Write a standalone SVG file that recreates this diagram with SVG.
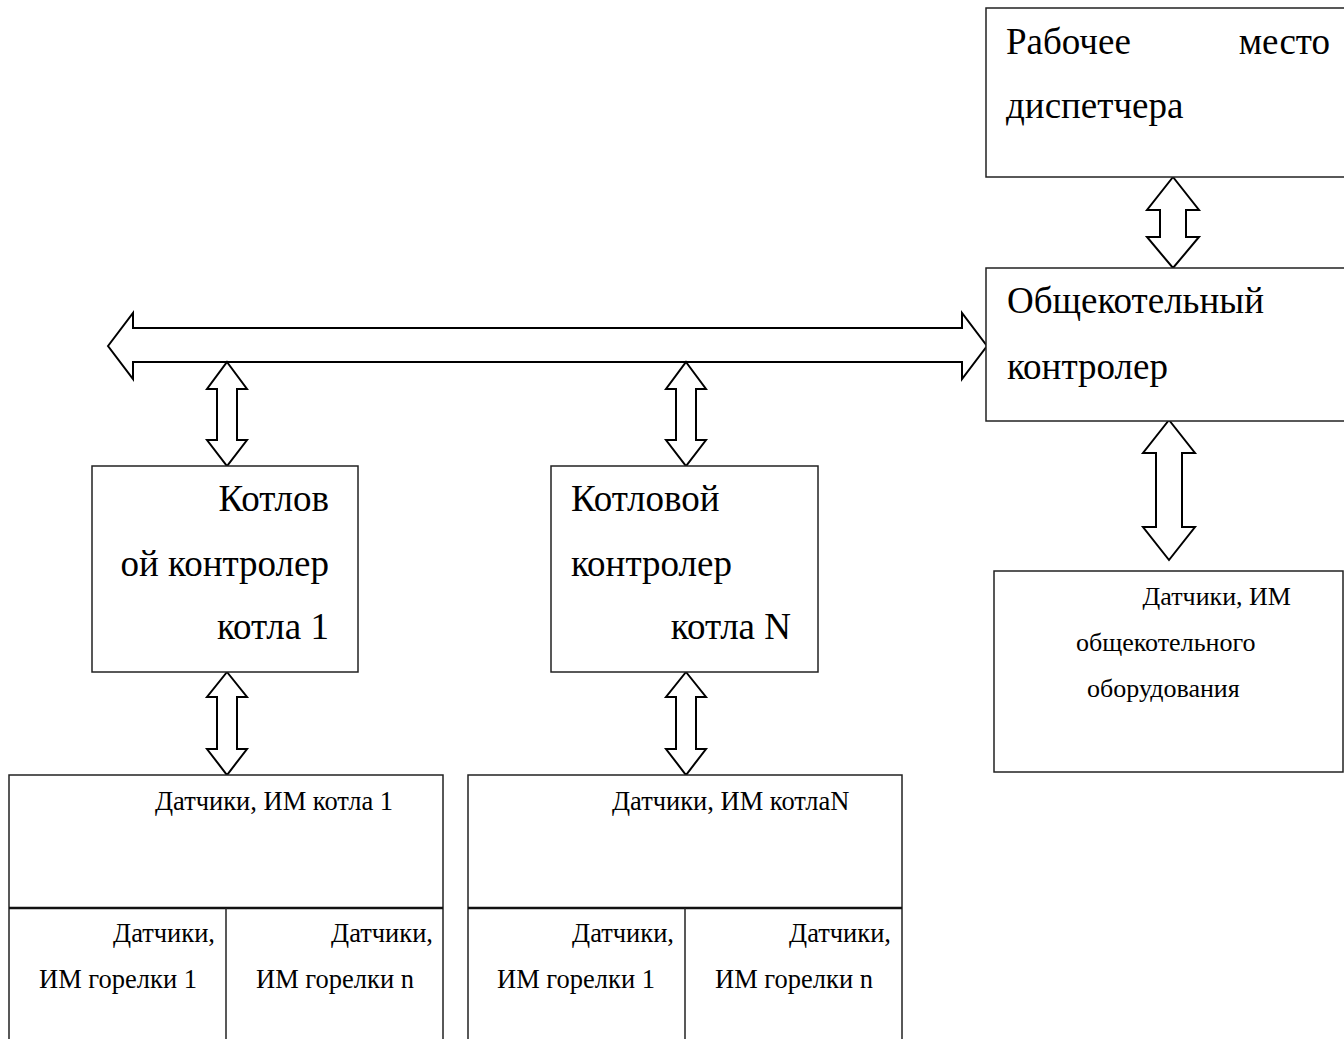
<svg xmlns="http://www.w3.org/2000/svg" width="1344" height="1039" viewBox="0 0 1344 1039">
<style>
.box{fill:#fff;stroke:#222;stroke-width:1.5}
.div{stroke:#111;stroke-width:2.5}
.vdiv{stroke:#222;stroke-width:1.5}
.arr{fill:#fff;stroke:#000;stroke-width:2;stroke-linejoin:miter}
.big{font-family:"Liberation Serif","Times New Roman",serif;font-size:37px;fill:#000}
.sm{font-family:"Liberation Serif","Times New Roman",serif;font-size:26.5px;fill:#000}
.sm3{font-family:"Liberation Serif","Times New Roman",serif;font-size:26px;fill:#000}
</style>
<rect width="1344" height="1039" fill="#fff"/>
<g id="connectors">
<polygon class="arr" points="108,346 133,313 133,328 962,328 962,313 987,346 962,379 962,362 133,362 133,379"/>
<polygon class="arr" points="227,362 247,389 237,389 237,440 247,440 227,466 207,440 217,440 217,389 207,389"/>
<polygon class="arr" points="686,362 706,389 696,389 696,440 706,440 686,466 666,440 676,440 676,389 666,389"/>
<polygon class="arr" points="227,672 247,697 237,697 237,749 247,749 227,775 207,749 217,749 217,697 207,697"/>
<polygon class="arr" points="686,672 706,697 696,697 696,749 706,749 686,775 666,749 676,749 676,697 666,697"/>
<polygon class="arr" points="1173,177 1199,210 1186,210 1186,237 1199,237 1173,268 1147,237 1160,237 1160,210 1147,210"/>
<polygon class="arr" points="1169,420 1195,453 1182,453 1182,527 1195,527 1169,560 1143,527 1156,527 1156,453 1143,453"/>
</g>
<g id="dispatcher">
<rect class="box" x="986" y="8" width="380" height="169"/>
<text class="big" x="1006" y="54">Рабочее</text>
<text class="big" x="1330" y="54" text-anchor="end">место</text>
<text class="big" x="1006" y="118">диспетчера</text>
</g>
<g id="main-controller">
<rect class="box" x="986" y="268" width="380" height="153"/>
<text class="big" x="1007" y="313">Общекотельный</text>
<text class="big" x="1007" y="379">контролер</text>
</g>
<g id="common-sensors">
<rect class="box" x="994" y="571" width="349" height="201"/>
<text class="sm3" x="1291" y="605" text-anchor="end">Датчики, ИМ</text>
<text class="sm3" x="1076" y="651">общекотельного</text>
<text class="sm3" x="1087" y="697">оборудования</text>
</g>
<g id="boiler1-controller">
<rect class="box" x="92" y="466" width="266" height="206"/>
<text class="big" x="329" y="511" text-anchor="end">Котлов</text>
<text class="big" x="329" y="576" text-anchor="end">ой контролер</text>
<text class="big" x="329" y="639" text-anchor="end">котла 1</text>
</g>
<g id="boilerN-controller">
<rect class="box" x="551" y="466" width="267" height="206"/>
<text class="big" x="571" y="511">Котловой</text>
<text class="big" x="571" y="576">контролер</text>
<text class="big" x="791" y="639" text-anchor="end">котла N</text>
</g>
<g id="boiler1-sensors">
<rect class="box" x="9" y="775" width="434" height="290"/>
<line class="div" x1="9" y1="908" x2="443" y2="908"/>
<line class="vdiv" x1="226" y1="908" x2="226" y2="1039"/>
<text class="sm" x="155" y="810">Датчики, ИМ котла 1</text>
<text class="sm" x="215" y="942" text-anchor="end">Датчики,</text>
<text class="sm" x="39" y="988">ИМ горелки 1</text>
<text class="sm" x="433" y="942" text-anchor="end">Датчики,</text>
<text class="sm" x="256" y="988">ИМ горелки n</text>
</g>
<g id="boilerN-sensors">
<rect class="box" x="468" y="775" width="434" height="290"/>
<line class="div" x1="468" y1="908" x2="902" y2="908"/>
<line class="vdiv" x1="685" y1="908" x2="685" y2="1039"/>
<text class="sm" x="612" y="810">Датчики, ИМ котлаN</text>
<text class="sm" x="674" y="942" text-anchor="end">Датчики,</text>
<text class="sm" x="497" y="988">ИМ горелки 1</text>
<text class="sm" x="891" y="942" text-anchor="end">Датчики,</text>
<text class="sm" x="715" y="988">ИМ горелки n</text>
</g>
</svg>
